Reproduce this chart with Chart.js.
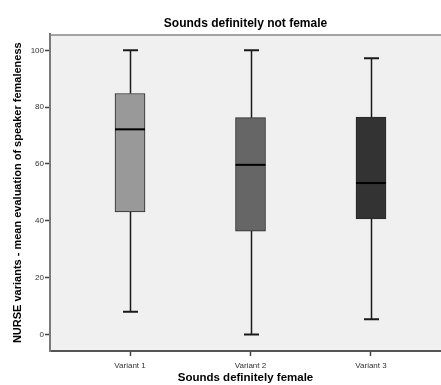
<!DOCTYPE html>
<html>
<head>
<meta charset="utf-8">
<script src="https://cdn.jsdelivr.net/npm/chart.js@4/dist/chart.umd.min.js"></script>
<style>
    html, body { margin: 0; padding: 0; background: #ffffff; }
    #wrap { width: 441px; height: 385px; }
</style>
</head>
<body>
<div id="wrap"><canvas id="boxChart" width="441" height="385"></canvas></div>
<script>
// values
const categories = ['Variant 1', 'Variant 2', 'Variant 3'];
const minValues = [8, 0, 5.4];
const q1Values = [43.1, 36.4, 40.7];
const medianValues = [72.2, 59.7, 53.3];
const q3Values = [84.8, 76.3, 76.5];
const maxValues = [100, 100, 97.2];
const boxColors = ['#999999', '#666666', '#333333'];
const yTicks = [0, 20, 40, 60, 80, 100];

const fontFamily = '"Liberation Sans", Arial, sans-serif';

// plot background + top frame line
const plotFrame = {
    id: 'plotFrame',
    beforeDraw(chart) {
        const { ctx, chartArea: a } = chart;
        ctx.save();
        ctx.fillStyle = '#f0f0f0';
        ctx.fillRect(a.left, a.top, a.right - a.left, a.bottom - a.top);
        ctx.strokeStyle = '#8a8a8a';
        ctx.lineWidth = 1.5;
        ctx.beginPath();
        ctx.moveTo(a.left, a.top + 0.5);
        ctx.lineTo(a.right, a.top + 0.5);
        ctx.stroke();
        ctx.restore();
    }
};

// whiskers, caps and medians drawn with the chart scales
const boxExtras = {
    id: 'boxExtras',
    beforeDatasetsDraw(chart) {
        const { ctx, scales: { x, y } } = chart;
        ctx.save();
        ctx.strokeStyle = '#1a1a1a';
        categories.forEach((c, i) => {
            const cx = Math.round(x.getPixelForValue(i)) + 0.5;
            const capHalf = 7.5;
            ctx.lineWidth = 1.5;
            ctx.beginPath();
            ctx.moveTo(cx, y.getPixelForValue(minValues[i]));
            ctx.lineTo(cx, y.getPixelForValue(q1Values[i]));
            ctx.moveTo(cx, y.getPixelForValue(q3Values[i]));
            ctx.lineTo(cx, y.getPixelForValue(maxValues[i]));
            ctx.stroke();
            ctx.lineWidth = 2;
            ctx.beginPath();
            ctx.moveTo(cx - capHalf, y.getPixelForValue(minValues[i]));
            ctx.lineTo(cx + capHalf, y.getPixelForValue(minValues[i]));
            ctx.moveTo(cx - capHalf, y.getPixelForValue(maxValues[i]));
            ctx.lineTo(cx + capHalf, y.getPixelForValue(maxValues[i]));
            ctx.stroke();
        });
        ctx.restore();
    },
    afterDatasetsDraw(chart) {
        const { ctx, scales: { x, y } } = chart;
        ctx.save();
        ctx.strokeStyle = '#000000';
        ctx.lineWidth = 2;
        categories.forEach((c, i) => {
            const cx = x.getPixelForValue(i);
            const my = y.getPixelForValue(medianValues[i]);
            ctx.beginPath();
            ctx.moveTo(cx - 15, my);
            ctx.lineTo(cx + 15, my);
            ctx.stroke();
        });
        ctx.restore();
    }
};

document.addEventListener('DOMContentLoaded', function () {
    const ctx = document.getElementById('boxChart').getContext('2d');
    const boxChart = new Chart(ctx, {
        type: 'bar',
        data: {
            datasets: [{
                label: 'IQR',
                data: categories.map((c, i) => ({ x: i, y: [q1Values[i], q3Values[i]] })),
                backgroundColor: boxColors,
                borderColor: '#2a2a2a',
                borderWidth: 1,
                borderSkipped: false,
                barThickness: 30
            }]
        },
        options: {
            responsive: false,
            animation: false,
            layout: { padding: { left: 0, right: 0, top: 0, bottom: 0 } },
            plugins: {
                legend: { display: false },
                tooltip: { enabled: false },
                title: {
                    display: true,
                    fullSize: false,
                    text: 'Sounds definitely not female',
                    color: '#000000',
                    font: { family: fontFamily, size: 12, weight: 'bold' },
                    padding: { top: 16, bottom: 4 }
                }
            },
            scales: {
                x: {
                    type: 'linear',
                    min: -0.664,
                    max: 2.581,
                    offset: false,
                    afterBuildTicks: axis => { axis.ticks = categories.map((c, i) => ({ value: i })); },
                    afterFit: axis => { axis.height = 34; },
                    ticks: {
                        callback: v => categories[v],
                        color: '#333333',
                        font: { family: fontFamily, size: 8 },
                        padding: 5,
                        maxRotation: 0
                    },
                    grid: { offset: false, drawOnChartArea: false, tickLength: 5, tickColor: '#444444', tickWidth: 1.5 },
                    border: { color: '#555555', width: 2 },
                    title: {
                        display: true,
                        text: 'Sounds definitely female',
                        color: '#000000',
                        font: { family: fontFamily, size: 11.5, weight: 'bold' },
                        padding: { top: 2, bottom: 0 }
                    }
                },
                y: {
                    min: -5.8,
                    max: 105.6,
                    afterBuildTicks: axis => { axis.ticks = yTicks.map(v => ({ value: v })); },
                    afterFit: axis => { axis.width = 50; },
                    ticks: {
                        color: '#333333',
                        font: { family: fontFamily, size: 8 },
                        padding: 1
                    },
                    grid: { drawOnChartArea: false, tickLength: 5, tickColor: '#444444', tickWidth: 1.5 },
                    border: { color: '#7a7a7a', width: 2 },
                    title: {
                        display: true,
                        text: 'NURSE variants - mean evaluation of speaker femaleness',
                        color: '#000000',
                        font: { family: fontFamily, size: 11, weight: 'bold' },
                        padding: { top: 11, bottom: 4 }
                    }
                }
            }
        },
        plugins: [plotFrame, boxExtras]
    });
});
</script>
</body>
</html>
